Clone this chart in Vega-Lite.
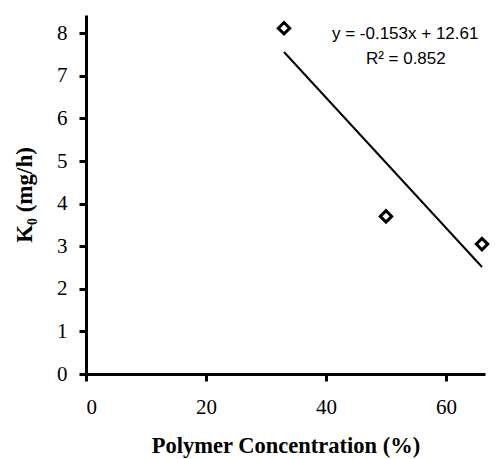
{
  "$schema": "https://vega.github.io/schema/vega-lite/v6.json",
  "autosize": "none",
  "width": 399,
  "height": 359,
  "padding": {"left": 86, "top": 15, "right": 15, "bottom": 85},
  "background": "white",
  "config": {"view": {"stroke": null}},
  "datasets": {
    "points": [
      {"conc": 33, "k0": 8.12},
      {"conc": 50, "k0": 3.7},
      {"conc": 66, "k0": 3.05}
    ],
    "fit": [
      {"conc": 33, "k0": 7.561},
      {"conc": 66, "k0": 2.512}
    ],
    "labels": [
      {"conc": 53.2, "k0": 7.98, "label": "y = -0.153x + 12.61"},
      {"conc": 53.3, "k0": 7.4, "label": "R² = 0.852"}
    ]
  },
  "layer": [
    {
      "data": {"name": "fit"},
      "mark": {"type": "line", "color": "black", "strokeWidth": 2},
      "encoding": {
        "x": {
          "field": "conc", "type": "quantitative",
          "scale": {"domain": [0, 66.5], "nice": false, "zero": false},
          "axis": {
            "title": "Polymer Concentration (%)",
            "values": [0, 20, 40, 60],
            "grid": false,
            "domainColor": "black", "domainWidth": 3,
            "tickColor": "black", "tickWidth": 3, "tickSize": 7,
            "labelFont": "Liberation Serif", "labelFontSize": 21, "labelColor": "black", "labelPadding": 15,
            "titleFont": "Liberation Serif", "titleFontSize": 22.5, "titleFontWeight": "bold", "titleColor": "black", "titlePadding": 17
          }
        },
        "y": {
          "field": "k0", "type": "quantitative",
          "scale": {"domain": [0, 8.43], "nice": false},
          "axis": {
            "title": "K₀ (mg/h)",
            "values": [0, 1, 2, 3, 4, 5, 6, 7, 8],
            "grid": false,
            "domainColor": "black", "domainWidth": 3,
            "tickColor": "black", "tickWidth": 3, "tickSize": 7,
            "labelFont": "Liberation Serif", "labelFontSize": 21, "labelColor": "black", "labelPadding": 12,
            "titleFont": "Liberation Serif", "titleFontSize": 23, "titleFontWeight": "bold", "titleColor": "black", "titlePadding": 20
          }
        }
      }
    },
    {
      "data": {"name": "points"},
      "mark": {"type": "point", "shape": "diamond", "filled": false, "fill": "white", "fillOpacity": 1, "stroke": "black", "strokeWidth": 3, "size": 130, "opacity": 1},
      "encoding": {
        "x": {"field": "conc", "type": "quantitative"},
        "y": {"field": "k0", "type": "quantitative"}
      }
    },
    {
      "data": {"name": "labels"},
      "mark": {"type": "text", "font": "Liberation Sans", "fontSize": 17, "color": "black", "align": "center", "baseline": "middle"},
      "encoding": {
        "x": {"field": "conc", "type": "quantitative"},
        "y": {"field": "k0", "type": "quantitative"},
        "text": {"field": "label"}
      }
    }
  ]
}
